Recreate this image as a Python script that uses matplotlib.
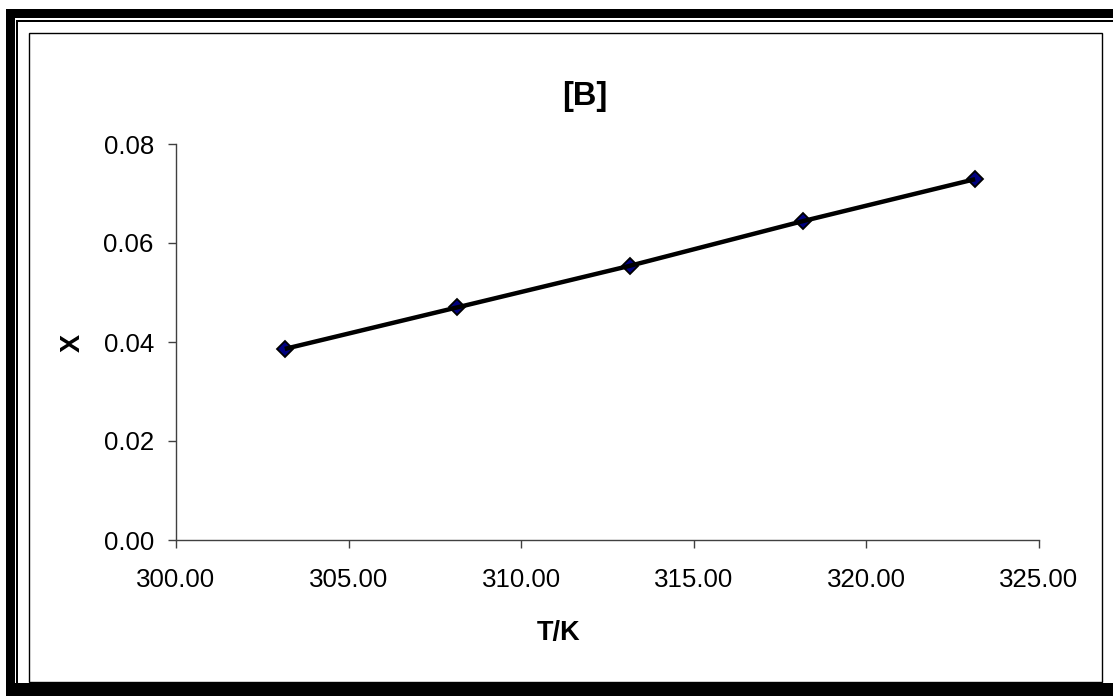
import matplotlib
matplotlib.use("Agg")
import matplotlib.pyplot as plt
from matplotlib.patches import Rectangle

# Temperature (K) and mole fraction X
temperature = [303.15, 308.15, 313.15, 318.15, 323.15]
mole_fraction = [0.0386, 0.0470, 0.0554, 0.0644, 0.0729]

x_ticks = [300, 305, 310, 315, 320, 325]
y_ticks = [0.00, 0.02, 0.04, 0.06, 0.08]

plt.rcParams['font.family'] = ['Liberation Sans', 'DejaVu Sans']

W, H = 1113, 696
fig = plt.figure(figsize=(W / 100, H / 100), dpi=100)


def px_rect(x0, y0, x1, y1, **kw):
    """Rectangle given in pixel coordinates measured from the top-left."""
    r = Rectangle((x0 / W, 1 - y1 / H), (x1 - x0) / W, (y1 - y0) / H,
                  transform=fig.transFigure, figure=fig, **kw)
    fig.patches.append(r)


# Heavy outer frame (top, left, bottom) with a thin accent line
px_rect(6, 9, W, 18, facecolor='black', edgecolor='none')
px_rect(6, 9, 15, H, facecolor='black', edgecolor='none')
px_rect(6, 683, W, H, facecolor='black', edgecolor='none')
px_rect(16, 20, W, 21.5, facecolor='black', edgecolor='none')
px_rect(16, 20, 17.5, 683, facecolor='black', edgecolor='none')
# Thin inner chart-area frame
px_rect(28.5, 32.5, 1101.5, 682, facecolor='none', edgecolor='black', linewidth=1.0)

ax = fig.add_axes([176 / W, 1 - 540 / H, (1039 - 176) / W, (540 - 144) / H])
ax.set_facecolor('none')

ax.plot(temperature, mole_fraction, linestyle='none', marker='D', markersize=8.5,
        markerfacecolor='#000080', markeredgecolor='black', markeredgewidth=1.3,
        zorder=3)
ax.plot(temperature, mole_fraction, color='black', linewidth=3.2,
        solid_capstyle='butt', zorder=4)

ax.set_xlim(300, 325)
ax.set_ylim(0, 0.08)
ax.set_xticks(x_ticks)
ax.set_yticks(y_ticks)
ax.set_xticklabels([f"{v:.2f}" for v in x_ticks])
ax.set_yticklabels([f"{v:.2f}" for v in y_ticks])

for side in ('top', 'right'):
    ax.spines[side].set_visible(False)
for side in ('left', 'bottom'):
    ax.spines[side].set_color('#404040')
    ax.spines[side].set_linewidth(1.0)

ax.tick_params(axis='both', direction='out', length=6, width=1.0,
               color='#404040', labelsize=18.6, labelcolor='black')
ax.tick_params(axis='x', pad=14)
ax.tick_params(axis='y', pad=10)

fig.text(585 / W, 1 - 97 / H, '[B]', ha='center', va='center',
         fontsize=23.5, fontweight='bold')
fig.text(559 / W, 1 - 633 / H, 'T/K', ha='center', va='center',
         fontsize=19.5, fontweight='bold')
fig.text(73 / W, 1 - 343 / H, 'X', ha='center', va='center', rotation=90,
         fontsize=19.5, fontweight='bold')

fig.savefig('out.png', dpi=100, facecolor='white')
